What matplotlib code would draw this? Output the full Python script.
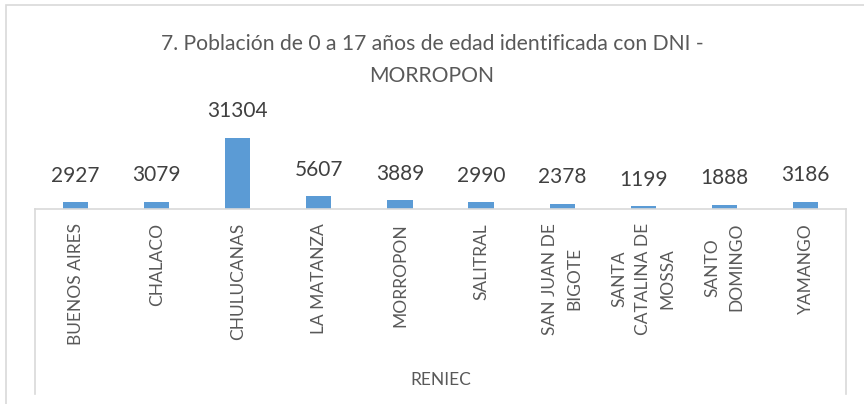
import matplotlib.pyplot as plt
from matplotlib.lines import Line2D
from matplotlib.patches import Rectangle

plt.rcParams['font.family'] = ['Lato', 'DejaVu Sans']

districts = ['BUENOS AIRES', 'CHALACO', 'CHULUCANAS', 'LA MATANZA', 'MORROPON',
             'SALITRAL', 'SAN JUAN DE\nBIGOTE', 'SANTA\nCATALINA DE\nMOSSA',
             'SANTO\nDOMINGO', 'YAMANGO']
poblacion = [2927, 3079, 31304, 5607, 3889, 2990, 2378, 1199, 1888, 3186]
group_label = 'RENIEC'
title = '7. Población de 0 a 17 años de edad identificada con DNI -\nMORROPON'

W, H = 864, 404
fig = plt.figure(figsize=(W / 100, H / 100), dpi=100)

# plot area in pixels
left, right, base, top = 35, 846, 209, 100
ax = fig.add_axes([left / W, (H - base) / H, (right - left) / W, (base - top) / H])

x = range(len(districts))
bars = ax.bar(x, poblacion, width=0.31, color='#5B9BD5')
ax.bar_label(bars, padding=12, fontsize=15, color='#404040')

ax.set_xlim(-0.5, len(districts) - 0.5)
ax.set_ylim(0, 48000)
ax.set_yticks([])
ax.set_xticks([])
for s in ['left', 'right', 'top']:
    ax.spines[s].set_visible(False)
ax.spines['bottom'].set_color('#D9D9D9')
ax.spines['bottom'].set_linewidth(1.2)

# category labels, rotated
for i, name in enumerate(districts):
    ax.annotate(name, xy=(i, 0), xytext=(0, -10), textcoords='offset points',
                rotation=90, ha='center', va='top', fontsize=12.5,
                color='#595959', multialignment='center', linespacing=1.6)

# group axis dividers
for px in (left, right):
    fig.add_artist(Line2D([px / W, px / W], [(H - base) / H, (H - 394) / H],
                          color='#D9D9D9', lw=1.2))
fig.text((left + right) / 2 / W, 1 - 380 / H, group_label, ha='center', va='center',
         fontsize=12.5, color='#595959')

# chart border
fig.add_artist(Rectangle((6 / W, -0.1), 1.2, 1 - 5 / H + 0.1, fill=False,
                         edgecolor='#D9D9D9', lw=1.2))

fig.text(0.5, 1 - 60 / H, title, ha='center', va='center', fontsize=15.2,
         color='#595959', linespacing=1.75)

fig.savefig('out.png', dpi=100)
